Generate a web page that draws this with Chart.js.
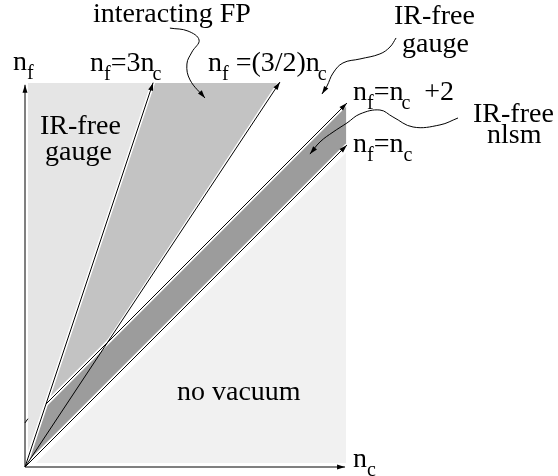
<!DOCTYPE html>
<html><head><meta charset="utf-8">
<script src="https://cdn.jsdelivr.net/npm/chart.js@4"></script>
<style>html,body{margin:0;padding:0;background:#fff}canvas{display:block}</style>
</head><body>
<canvas id="c" width="558" height="476"></canvas>
<script>
// ---- data (n_c horizontal, n_f vertical) ----
const nfTop = 18.29;      // top of shaded diagram
const ncRight = 15.29;    // right edge of shaded diagram
const axisX = [{x:0,y:0},{x:15.24,y:0}];
const axisY = [{x:0,y:0},{x:0,y:18.2}];
const line3nc = [{x:0,y:0},{x:6.1,y:18.3}];          // n_f = 3 n_c
const line32nc = [{x:0,y:0},{x:12.14,y:18.33}];      // n_f = (3/2) n_c
const line32ncGap = [{x:4,y:6},{x:12.14,y:18.33}];
const lineNc2 = [{x:1,y:3},{x:15.33,y:17.33}];       // n_f = n_c + 2
const lineNc = [{x:0,y:0},{x:15.33,y:15.33}];        // n_f = n_c
const yTick = [{x:0,y:2.1},{x:0.14,y:2.3}];
const regionIRgauge = [{x:0.14,y:0.42},{x:0.14,y:nfTop},{x:6.1,y:nfTop},{x:0.14,y:0.42}];
const regionFP = [{x:1,y:3},{x:6.1,y:nfTop},{x:12.19,y:nfTop},{x:4,y:6},{x:1,y:3}];
const regionNlsm = [{x:0,y:0},{x:1,y:3},{x:ncRight,y:17.29},{x:ncRight,y:15.29},{x:0,y:0}];
const regionNoVac = [{x:0.52,y:0.19},{x:ncRight,y:0.19},{x:ncRight,y:14.96},{x:0.52,y:0.19}];
const leaderFP = [{x:6.9,y:20.9},{x:7.76,y:20.76},{x:8.29,y:20.33},{x:7.95,y:19.76},{x:7.71,y:19.19},{x:7.86,y:18.43},{x:8.57,y:17.57}];
const leaderGauge = [{x:17.67,y:20.43},{x:17.38,y:20.0},{x:16.9,y:19.67},{x:15.95,y:19.43},{x:15.14,y:19.24},{x:14.67,y:18.76},{x:14.38,y:18.14},{x:14.14,y:17.76}];
const leaderNlsm = [{x:20.62,y:16.62},{x:19.76,y:16.29},{x:18.48,y:16.19},{x:17.52,y:16.67},{x:16.9,y:17.0},{x:15.95,y:16.81},{x:15.33,y:16.38},{x:14.67,y:15.95},{x:14.05,y:15.48},{x:13.57,y:14.9}];

// text labels: anchor (data units) and parts [text, isSub, dx]
const labels = [
  {x:-0.571,y:18.905,parts:[['n'],['f',1]]},
  {x:15.619,y:0,parts:[['n'],['c',1]]},
  {x:3.095,y:18.86,parts:[['n'],['f',1],['=3n'],['c',1,-2]]},
  {x:8.714,y:18.86,parts:[['n'],['f',1],[' =(3/2)n'],['c',1,-2]]},
  {x:15.619,y:17.476,parts:[['n'],['f',1],['=n'],['c',1,-2],['  +2']]},
  {x:15.619,y:15.0,parts:[['n'],['f',1],['=n'],['c',1,0]]},
  {x:3.238,y:21.19,parts:[['interacting FP']]},
  {x:0.714,y:15.857,parts:[['IR-free']]},
  {x:0.952,y:14.619,parts:[['gauge']]},
  {x:17.571,y:21.095,parts:[['IR-free']]},
  {x:17.952,y:19.762,parts:[['gauge']]},
  {x:21.333,y:16.429,parts:[['IR-free']]},
  {x:22.0,y:15.43,parts:[['nlsm']]},
  {x:7.238,y:3.19,parts:[['no vacuum']]}
];

const C_IRG = '#e5e5e5', C_FP = '#c3c3c3', C_NLSM = '#9c9c9c', C_NOVAC = '#f1f1f1';

function poly(data, color){ return {data, showLine:true, fill:'shape', backgroundColor:color, borderWidth:0, borderColor:color, pointRadius:0, order:10}; }
function gap(data){ return {data, showLine:true, fill:false, borderColor:'#fff', borderWidth:4, pointRadius:0, order:5}; }
function ink(data, arrow, tension){ return {data, showLine:true, fill:false, borderColor:'#000', borderWidth:1, pointRadius:0, order:1, arrow:!!arrow, tension:tension||0}; }

const annot = {
  id:'annot',
  afterDatasetsDraw(chart){
    const ctx = chart.ctx, xs = chart.scales.x, ys = chart.scales.y;
    ctx.save();
    chart.data.datasets.forEach((ds,i)=>{
      if(!ds.arrow) return;
      const pts = chart.getDatasetMeta(i).data;
      const p = pts[pts.length-1], q = pts[pts.length-2];
      let fx=q.x, fy=q.y;
      if(ds.tension && p.cp1x!==undefined && (p.cp1x!==p.x || p.cp1y!==p.y)){ fx=p.cp1x; fy=p.cp1y; }
      const a = Math.atan2(p.y-fy, p.x-fx), L=8, W=2.5;
      ctx.fillStyle='#000';
      ctx.beginPath();
      ctx.moveTo(p.x,p.y);
      ctx.lineTo(p.x-L*Math.cos(a)+W*Math.sin(a), p.y-L*Math.sin(a)-W*Math.cos(a));
      ctx.lineTo(p.x-L*Math.cos(a)-W*Math.sin(a), p.y-L*Math.sin(a)+W*Math.cos(a));
      ctx.closePath(); ctx.fill();
    });
    ctx.fillStyle='#000'; ctx.textBaseline='alphabetic'; ctx.textAlign='left';
    labels.forEach(l=>{
      let cx = xs.getPixelForValue(l.x); const by = ys.getPixelForValue(l.y);
      l.parts.forEach(pt=>{
        const sub = !!pt[1];
        ctx.font = (sub?'20px':'28px')+' "Liberation Serif", "DejaVu Serif", serif';
        cx += pt[2]||0;
        ctx.fillText(pt[0], cx, by + (sub?9:0));
        cx += ctx.measureText(pt[0]).width;
      });
    });
    ctx.restore();
  }
};

new Chart(document.getElementById('c'), {
  type:'scatter',
  data:{datasets:[
    poly(regionNoVac, C_NOVAC), poly(regionIRgauge, C_IRG), poly(regionNlsm, C_NLSM), poly(regionFP, C_FP),
    gap(line3nc), gap(line32ncGap), gap(lineNc2), gap(lineNc),
    ink(axisX,true), ink(axisY,true), ink(line3nc,true), ink(line32nc,true), ink(lineNc2,true), ink(lineNc,true), ink(yTick),
    ink(leaderFP,true,0.4), ink(leaderGauge,true,0.4), ink(leaderNlsm,true,0.4)
  ]},
  options:{
    responsive:false, animation:false, events:[],
    layout:{padding:0},
    plugins:{legend:{display:false}, tooltip:{enabled:false}},
    scales:{
      x:{type:'linear', display:false, min:-25/21, max:(558-25)/21},
      y:{type:'linear', display:false, min:-(476-467)/21, max:467/21}
    },
    elements:{line:{capBezierPoints:false}}
  },
  plugins:[annot]
});
</script>
</body></html>
